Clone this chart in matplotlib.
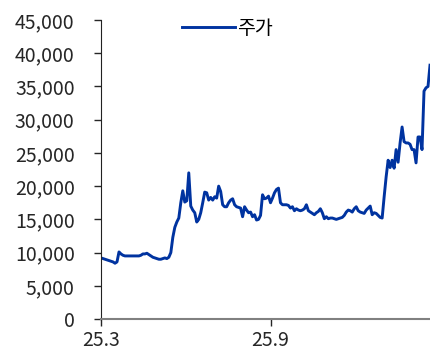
import matplotlib
matplotlib.use('Agg')
import matplotlib.pyplot as plt
import numpy as np

plt.rcParams['font.family'] = ['Noto Sans CJK KR', 'DejaVu Sans']

# 주가 (roughly every 1.5 trading days, 25.3 ~ 26.2)
price = [9200, 9100, 9000, 8900, 8800, 8700, 8600, 8400, 8600, 10100,
         9800, 9600, 9500, 9500, 9500, 9500, 9500, 9500, 9500, 9500,
         9600, 9800, 9800, 9900, 9700, 9500, 9300, 9200, 9100, 9000,
         9000, 9100, 9200, 9100, 9300, 10000, 12300, 13800, 14600, 15200,
         17500, 19300, 17600, 17800, 22000, 17000, 16400, 16000, 14600, 15000,
         16000, 17500, 19100, 19000, 17900, 18300, 17900, 18400, 18200, 20000,
         19200, 17200, 16900, 16900, 17500, 17900, 18100, 17200, 16900, 16800,
         16700, 15400, 16900, 16400, 16000, 16100, 15400, 15700, 14900, 15000,
         15600, 18700, 18100, 18200, 18500, 17500, 18200, 19000, 19500, 19700,
         17500, 17200, 17200, 17200, 17100, 16700, 16900, 16300, 16600, 16400,
         16300, 16400, 16600, 17200, 16300, 16100, 15900, 15700, 16000, 16200,
         16600, 16000, 15100, 15400, 15100, 15200, 15200, 15100, 15000, 15100,
         15200, 15300, 15600, 16100, 16400, 16300, 16100, 16600, 16900, 16300,
         16100, 16000, 15900, 16400, 16700, 17000, 15700, 16000, 15900, 15600,
         15300, 15200, 18400, 21400, 23900, 22800, 23900, 22700, 25500, 23600,
         26500, 28900, 26700, 26500, 26500, 26300, 25500, 25500, 23500, 27400,
         27400, 25500, 34300, 34800, 35000, 38200]
tick_pos = [0, 85]
tick_labels = ['25.3', '25.9']

fig = plt.figure(figsize=(4.30, 3.51), dpi=100)
ax = fig.add_axes([0.235, 0.091, 0.765, 0.852])

x = np.arange(len(price))
ax.plot(x, price, color='#0033a0', linewidth=2.1, label='주가')

ax.set_xlim(0, len(price) - 1)
ax.set_ylim(0, 45000)
ax.set_yticks(np.arange(0, 45001, 5000))
ax.set_yticklabels([f'{v:,}' for v in range(0, 45001, 5000)])
ax.set_xticks(tick_pos)
ax.set_xticklabels(tick_labels)

ax.tick_params(axis='both', labelsize=14, colors='#262626', length=5, width=1)
ax.tick_params(axis='y', pad=14)
ax.tick_params(axis='x', pad=3)
ax.spines['top'].set_visible(False)
ax.spines['right'].set_visible(False)
ax.spines['left'].set_color('#222222')
ax.spines['bottom'].set_color('#808080')
ax.spines['bottom'].set_linewidth(1.5)

ax.legend(loc='upper center', bbox_to_anchor=(0.384, 1.065), frameon=False,
          fontsize=14, handlelength=2.7, handletextpad=0.1)

plt.savefig('out.png', dpi=100)
